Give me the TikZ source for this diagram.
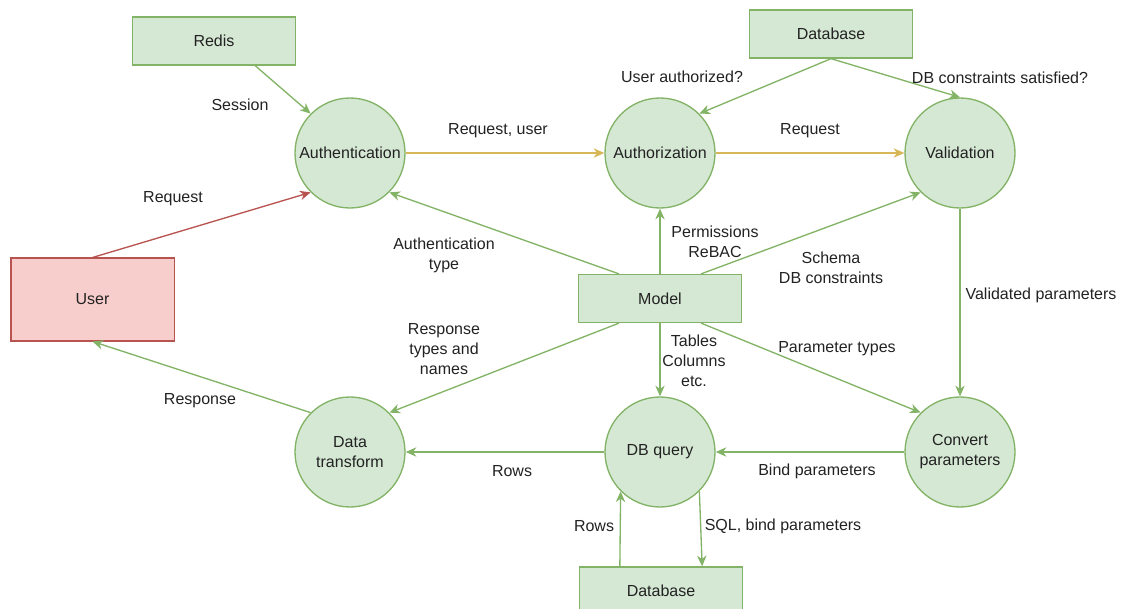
\documentclass[tikz,border=0pt]{standalone}
\usepackage{fontspec}
\setmainfont{Liberation Sans}
\usepackage{xcolor}
\usepackage{tikz}
\usetikzlibrary{arrows.meta,positioning,calc}
\definecolor{procgreen}{RGB}{213,232,212}
\definecolor{linegreen}{RGB}{130,179,102}
\definecolor{userred}{RGB}{248,206,204}
\definecolor{linered}{RGB}{184,84,80}
\definecolor{linegold}{RGB}{214,182,86}
\definecolor{textgray}{RGB}{34,34,34}

\begin{document}
\begin{tikzpicture}[x=0.75pt,y=-0.75pt,
    font=\fontsize{12}{15}\selectfont,text=textgray,
    process/.style={circle,draw=linegreen,fill=procgreen,line width=1pt,minimum size=82.5pt,inner sep=0pt,align=center},
    store/.style={rectangle,draw=linegreen,fill=procgreen,line width=1pt,minimum width=122.5pt,minimum height=36pt,inner sep=0pt},
    flow/.style={draw=linegreen,line width=1pt,-{Stealth[length=8pt,width=7pt,inset=2.5pt]}},
    flowtext/.style={align=center,inner sep=1pt}]
    \useasboundingbox (0,0) rectangle (1123,609);
    \clip (0,0) rectangle (1123,609);

    % Stores and the user
    \node[store] (redis) at (214,41) {Redis};
    \node[store] (dbtop) at (831,34) {Database};
    \node[store] (model) at (660,298.5) {Model};
    \node[store] (dbbottom) at (661,591) {Database};
    \node[store,draw=linered,fill=userred,minimum height=62pt] (user) at (92.5,299.5) {User};

    % Processes
    \node[process] (authn) at (350,153) {Authentication};
    \node[process] (authz) at (660,153) {Authorization};
    \node[process] (valid) at (960,153) {Validation};
    \node[process] (transform) at (350,452) {Data\\transform};
    \node[process] (query) at (660,452) {DB query};
    \node[process] (convert) at (960,452) {Convert\\parameters};

    % Exit points on the boxes
    \coordinate (redis-out) at ($(redis.south west)!.75!(redis.south east)$);
    \coordinate (model-nw) at ($(model.north west)!.25!(model.north east)$);
    \coordinate (model-ne) at ($(model.north west)!.75!(model.north east)$);
    \coordinate (model-sw) at ($(model.south west)!.25!(model.south east)$);
    \coordinate (model-se) at ($(model.south west)!.75!(model.south east)$);
    \coordinate (db-rows) at ($(dbbottom.north west)!.25!(dbbottom.north east)$);
    \coordinate (db-sql) at ($(dbbottom.north west)!.75!(dbbottom.north east)$);

    % Request path
    \draw[flow,draw=linered] (user.north) -- (authn.225);
    \draw[flow] (redis-out) -- (authn.135);
    \draw[flow,draw=linegold] (authn.east) -- (authz.west);
    \draw[flow,draw=linegold] (authz.east) -- (valid.west);
    \draw[flow] (dbtop.south) -- (authz.45);
    \draw[flow] (dbtop.south) -- (valid.north);
    \draw[flow] (valid.south) -- (convert.north);
    \draw[flow] (convert.west) -- (query.east);
    \draw[flow] (query.west) -- (transform.east);
    \draw[flow] (transform.135) -- (user.south);
    \draw[flow] (db-rows) -- (query.225);
    \draw[flow] (query.315) -- (db-sql);

    % Model feeds
    \draw[flow] (model-nw) -- (authn.315);
    \draw[flow] (model.north) -- (authz.south);
    \draw[flow] (model-ne) -- (valid.225);
    \draw[flow] (model-sw) -- (transform.45);
    \draw[flow] (model.south) -- (query.north);
    \draw[flow] (model-se) -- (convert.135);

    % Connector texts
    \node[flowtext] (t-request) at (173,199) {Request};
    \node[flowtext] (t-session) at (240,105) {Session};
    \node[flowtext] (t-requser) at (498,131) {Request, user};
    \node[flowtext] (t-reqvalid) at (810,131) {Request};
    \node[flowtext] (t-authorized) at (682,77) {User authorized?};
    \node[flowtext] (t-satisfied) at (1000,78) {DB constraints satisfied?};
    \node[flowtext] (t-authtype) at (444,255) {Authentication\\type};
    \node[flowtext] (t-perm) at (715,242) {Permissions\\ReBAC};
    \node[flowtext] (t-schema) at (831,268) {Schema\\DB constraints};
    \node[flowtext] (t-validated) at (1041,295) {Validated parameters};
    \node[flowtext] (t-resptypes) at (444,349) {Response\\types and\\names};
    \node[flowtext] (t-tables) at (694,361) {Tables\\Columns\\etc.};
    \node[flowtext] (t-paramtypes) at (837,349) {Parameter types};
    \node[flowtext] (t-response) at (200,401) {Response};
    \node[flowtext] (t-rows) at (512,471) {Rows};
    \node[flowtext] (t-bind) at (817,471) {Bind parameters};
    \node[flowtext] (t-dbrows) at (594,526) {Rows};
    \node[flowtext] (t-sql) at (783,526) {SQL, bind parameters};
\end{tikzpicture}
\end{document}
